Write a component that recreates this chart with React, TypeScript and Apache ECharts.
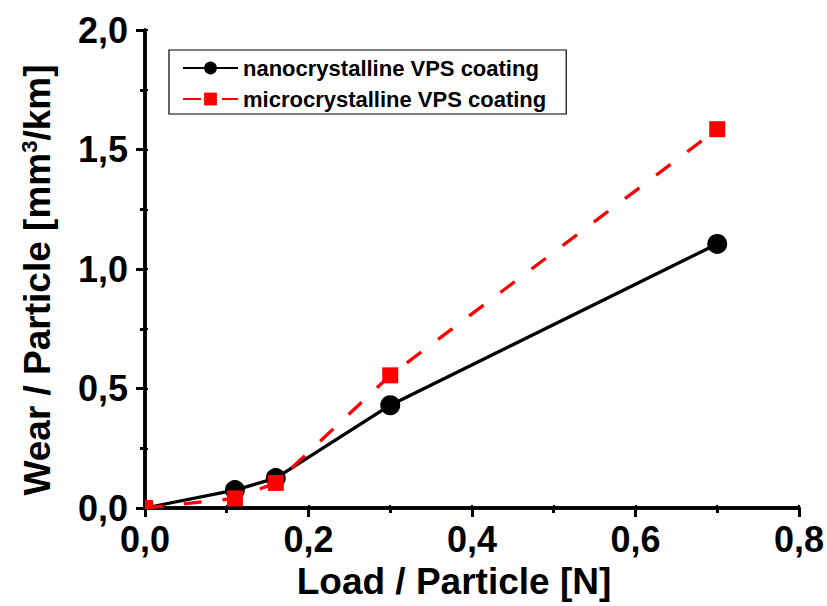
import React, { useEffect, useRef } from "react";
import * as echarts from "echarts";

const loads = [0, 0.11, 0.16, 0.3, 0.7];
const nanoWear = [0, 0.075, 0.125, 0.43, 1.105];
const microLoads = [0, 0.11, 0.16, 0.3, 0.7];
const microWear = [0, 0.04, 0.105, 0.555, 1.585];
const seriesNames = ["nanocrystalline VPS coating", "microcrystalline VPS coating"];

const FONT = "'Liberation Sans', Arial, sans-serif";
const fmt = (v: number) => v.toFixed(1).replace(".", ",");

export default function App() {
  const ref = useRef<HTMLDivElement>(null);
  useEffect(() => {
    if (!ref.current) return;
    const chart = echarts.init(ref.current, undefined, { renderer: "svg" });
    const axisLine = { show: true, lineStyle: { color: "#000", width: 3.5 } };
    const nanoData = loads.map((x, i) =>
      i === 0 ? { value: [x, nanoWear[i]], symbol: "none" } : [x, nanoWear[i]]
    );
    const microData = microLoads.map((x, i) =>
      i === 0
        ? { value: [x, microWear[i]], symbolSize: 8, symbolOffset: [4, -4] }
        : [x, microWear[i]]
    );
    chart.setOption({
      animation: false,
      backgroundColor: "#fff",
      textStyle: { fontFamily: FONT },
      grid: { left: 145, top: 30, right: 28, bottom: 98, containLabel: false },
      legend: {
        left: 169,
        top: 50,
        orient: "vertical",
        backgroundColor: "#fff",
        borderColor: "#000",
        borderWidth: 1.2,
        padding: [7, 20, 4, 13],
        itemGap: 9,
        itemWidth: 55,
        itemHeight: 16,
        textStyle: { fontFamily: FONT, fontWeight: "bold", fontSize: 22, color: "#000" },
        data: seriesNames,
      },
      xAxis: [
        {
          type: "value",
          min: 0,
          max: 0.8,
          interval: 0.2,
          name: "Load / Particle [N]",
          nameLocation: "middle",
          nameGap: 55,
          nameTextStyle: { fontFamily: FONT, fontWeight: "bold", fontSize: 37, color: "#000", padding: [0, 36, 0, 0] },
          axisLine,
          axisTick: { show: true, inside: false, length: 9, lineStyle: { width: 3, color: "#000" } },
          minorTick: { show: true, splitNumber: 2, length: 5, lineStyle: { width: 3, color: "#000" } },
          axisLabel: { formatter: fmt, fontFamily: FONT, fontWeight: "bold", fontSize: 36, color: "#000", margin: 13 },
          splitLine: { show: false },
        },
        {
          type: "value",
          position: "top",
          min: 0,
          max: 0.8,
          interval: 0.1,
          axisLine,
          axisTick: { show: true, length: 3, lineStyle: { width: 2, color: "#000" } },
          axisLabel: { show: false },
          splitLine: { show: false },
        },
      ],
      yAxis: [
        {
          type: "value",
          min: 0,
          max: 2,
          interval: 0.5,
          name: "Wear / Particle [mm{sup|3}/km]",
          nameLocation: "middle",
          nameRotate: 90,
          nameGap: 88,
          nameTextStyle: {
            fontFamily: FONT,
            fontWeight: "bold",
            fontSize: 37,
            color: "#000",
            padding: [0, 22, 0, 0],
            rich: {
              sup: { fontFamily: FONT, fontWeight: "bold", fontSize: 22, color: "#000", padding: [0, 0, 17, 0], verticalAlign: "bottom" },
            },
          },
          axisLine,
          axisTick: { show: true, inside: false, length: 9, lineStyle: { width: 3, color: "#000" } },
          minorTick: { show: true, splitNumber: 2, length: 5, lineStyle: { width: 3, color: "#000" } },
          axisLabel: { formatter: fmt, fontFamily: FONT, fontWeight: "bold", fontSize: 36, color: "#000", margin: 17 },
          splitLine: { show: false },
        },
        {
          type: "value",
          position: "right",
          min: 0,
          max: 2,
          interval: 0.25,
          axisLine,
          axisTick: { show: true, length: 3, lineStyle: { width: 2, color: "#000" } },
          axisLabel: { show: false },
          splitLine: { show: false },
        },
      ],
      series: [
        {
          name: seriesNames[0],
          type: "line",
          data: nanoData,
          symbol: "circle",
          symbolSize: 20,
          itemStyle: { color: "#000" },
          lineStyle: { color: "#000", width: 3.3 },
          z: 2,
        },
        {
          name: seriesNames[1],
          type: "line",
          data: microData,
          symbol: "rect",
          symbolSize: 16,
          itemStyle: { color: "#ff0000" },
          lineStyle: { color: "#ff0000", width: 3.3, type: [18, 21] },
          z: 3,
        },
      ],
    });
    return () => chart.dispose();
  }, []);
  return <div ref={ref} style={{ width: 827, height: 606, position: "absolute", left: 0, top: 0 }} />;
}
